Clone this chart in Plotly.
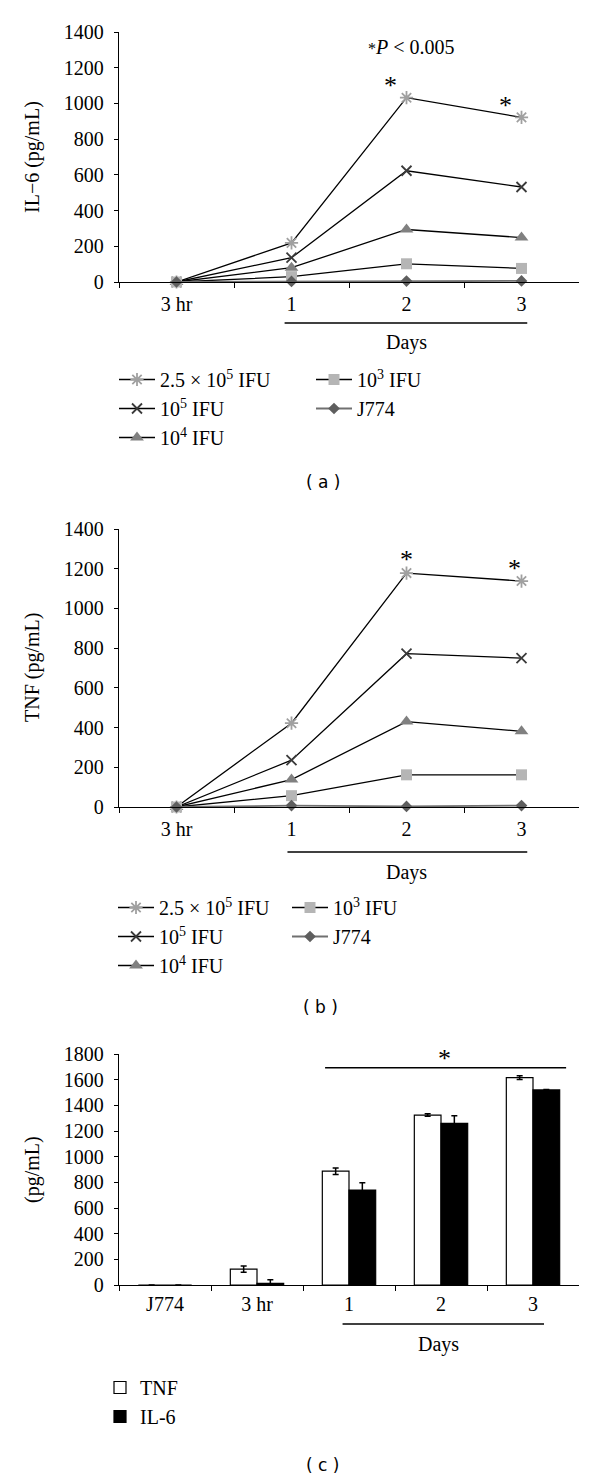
import plotly.graph_objects as go

# ---------------- data ----------------
time_labels = ["3 hr", "1", "2", "3"]
series_names = ["2.5 × 10<sup>5</sup> IFU", "10<sup>5</sup> IFU", "10<sup>4</sup> IFU",
                "10<sup>3</sup> IFU", "J774"]

il6_250k = [0, 219, 1032, 922]
il6_100k = [0, 136, 623, 532]
il6_10k = [0, 80, 294, 249]
il6_1k = [0, 30, 102, 76]
il6_j774 = [0, 3, 5, 6]

tnf_250k = [0, 422, 1178, 1138]
tnf_100k = [0, 236, 772, 750]
tnf_10k = [0, 138, 430, 381]
tnf_1k = [0, 57, 162, 162]
tnf_j774 = [0, 7, 3, 7]

bar_labels = ["J774", "3 hr", "1", "2", "3"]
bar_tnf = [0, 124, 887, 1324, 1616]
bar_tnf_err = [0, 25, 25, 10, 15]
bar_il6 = [0, 13, 740, 1259, 1520]
bar_il6_err = [0, 28, 56, 60, 3]

# ---------------- styling ----------------
W, H = 600, 1480
OFF = 8  # page body margin
SERIF = "Liberation Serif"
FS = 20


def py(px):
    return 1 - (px - OFF) / H


def pxx(px):
    return (px - OFF) / W


styles = [
    dict(symbol="asterisk-open", size=11, color="#a0a0a0", lc="black", lw=1.3),
    dict(symbol="x-thin-open", size=10, color="#3a3a3a", lc="black", lw=1.3),
    dict(symbol="triangle-up", size=12, color="#808080", lc="black", lw=1.3),
    dict(symbol="square", size=11, color="#b5b5b5", lc="black", lw=1.3),
    dict(symbol="diamond", size=9, color="#5e5e5e", lc="#707070", lw=1.8),
]

fig = go.Figure()

panels = [
    ("x", "y", [il6_250k, il6_100k, il6_10k, il6_1k, il6_j774], ("legend", "legend2")),
    ("x2", "y2", [tnf_250k, tnf_100k, tnf_10k, tnf_1k, tnf_j774], ("legend3", "legend4")),
]
for xa, ya, data, (lg1, lg2) in panels:
    for i, (name, vals, st) in enumerate(zip(series_names, data, styles)):
        open_sym = st["symbol"].endswith("open")
        marker = dict(symbol=st["symbol"], size=st["size"], color=st["color"])
        if open_sym:
            marker["line"] = dict(color=st["color"], width=1.8)
        else:
            marker["line"] = dict(width=0)
        fig.add_trace(go.Scatter(
            x=time_labels, y=vals, name=name, mode="lines+markers",
            line=dict(color=st["lc"], width=st["lw"]), marker=marker,
            xaxis=xa, yaxis=ya, cliponaxis=False,
            legend=lg1 if i < 3 else lg2, legendrank=i,
        ))

fig.add_trace(go.Bar(
    x=bar_labels, y=bar_tnf, name="TNF", xaxis="x3", yaxis="y3",
    marker=dict(color="white", line=dict(color="black", width=1.2)),
    error_y=dict(type="data", array=bar_tnf_err, color="black", thickness=1.5, width=3),
    legend="legend5",
))
fig.add_trace(go.Bar(
    x=bar_labels, y=bar_il6, name="IL-6", xaxis="x3", yaxis="y3",
    marker=dict(color="black", line=dict(color="black", width=1.2)),
    error_y=dict(type="data", array=bar_il6_err, color="black", thickness=1.5, width=3),
    legend="legend5",
))

xdom = [pxx(119), pxx(579)]
common_x = dict(type="category", tickson="boundaries", ticks="outside", ticklen=5,
                tickcolor="black", tickwidth=1.3, showline=True, linecolor="black",
                linewidth=1.3, showgrid=False, zeroline=False, automargin=False,
                tickfont=dict(family=SERIF, size=FS, color="black"))
common_y = dict(ticks="outside", ticklen=4, tickcolor="black", tickwidth=1.3,
                showline=True, linecolor="black", linewidth=1.3, showgrid=False,
                zeroline=False, automargin=False, ticklabelstandoff=6,
                tickfont=dict(family=SERIF, size=FS, color="black"),
                dtick=200)

fig.update_layout(
    width=W, height=H, margin=dict(l=0, r=0, t=0, b=0, autoexpand=False),
    paper_bgcolor="white", plot_bgcolor="white",
    barmode="group", bargap=0.42, bargroupgap=0,
    xaxis=dict(common_x, domain=xdom, anchor="y", range=[-0.5, 3.5], ticklabelstandoff=4),
    yaxis=dict(common_y, domain=[py(282), py(32)], anchor="x", range=[0, 1400]),
    xaxis2=dict(common_x, domain=xdom, anchor="y2", range=[-0.5, 3.5], ticklabelstandoff=4),
    yaxis2=dict(common_y, domain=[py(807), py(529)], anchor="x2", range=[0, 1400]),
    xaxis3=dict(common_x, domain=xdom, anchor="y3", range=[-0.5, 4.5], ticklabelstandoff=1),
    yaxis3=dict(common_y, domain=[py(1285), py(1054)], anchor="x3", range=[0, 1800]),
    showlegend=True,
)

leg_common = dict(orientation="v", xanchor="left", yanchor="top", bgcolor="rgba(0,0,0,0)",
                  font=dict(family=SERIF, size=FS, color="black"), borderwidth=0)
fig.update_layout(
    legend=dict(leg_common, x=pxx(114), y=py(360), itemwidth=36),
    legend2=dict(leg_common, x=pxx(311), y=py(360), itemwidth=36),
    legend3=dict(leg_common, x=pxx(113), y=py(888), itemwidth=36),
    legend4=dict(leg_common, x=pxx(287), y=py(888), itemwidth=36),
    legend5=dict(leg_common, x=pxx(100), y=py(1368)),
)

ann = []


def text(x, y, t, xref="paper", yref="paper", size=FS, angle=0, family=SERIF):
    ann.append(dict(x=x, y=y, xref=xref, yref=yref, text=t, showarrow=False,
                    textangle=angle, font=dict(family=family, size=size, color="black"),
                    xanchor="center", yanchor="middle"))


# axis titles
text(pxx(32), py(157), "IL−6 (pg/mL)", angle=-90)
text(pxx(32), py(668), "TNF (pg/mL)", angle=-90)
text(pxx(32), py(1170), "(pg/mL)", angle=-90)

# Days labels
text(2.0, py(343), "Days", xref="x")
text(2.0, py(872), "Days", xref="x2")
text(2.97, py(1344), "Days", xref="x3")

# significance marks
text(1.86, 1103, "*", xref="x", yref="y", size=26)
text(2.86, 991, "*", xref="x", yref="y", size=26)
text(2.04, 1316, "<span style='font-size:16px'>*</span><i>P</i> &lt; 0.005", xref="x", yref="y")
text(2.0, 1245, "*", xref="x2", yref="y2", size=26)
text(2.94, 1202, "*", xref="x2", yref="y2", size=26)
text(3.04, 1766, "*", xref="x3", yref="y3", size=26)

# panel labels
text(pxx(323), py(482), "( a )", family="DejaVu Sans", size=17)
text(pxx(321), py(1007), "( b )", family="DejaVu Sans", size=17)
text(pxx(322), py(1465), "( c )", family="DejaVu Sans", size=17)

fig.update_layout(annotations=ann)

line = dict(color="black", width=1.3)
fig.update_layout(shapes=[
    dict(type="line", xref="x", yref="paper", x0=0.94, x1=3.05, y0=py(323), y1=py(323), line=line),
    dict(type="line", xref="x2", yref="paper", x0=0.965, x1=3.05, y0=py(852), y1=py(852), line=line),
    dict(type="line", xref="x3", yref="paper", x0=1.93, x1=4.12, y0=py(1324), y1=py(1324), line=line),
    dict(type="line", xref="x3", yref="y3", x0=1.74, x1=4.36, y0=1693, y1=1693, line=line),
])

fig.write_html("out.html")
